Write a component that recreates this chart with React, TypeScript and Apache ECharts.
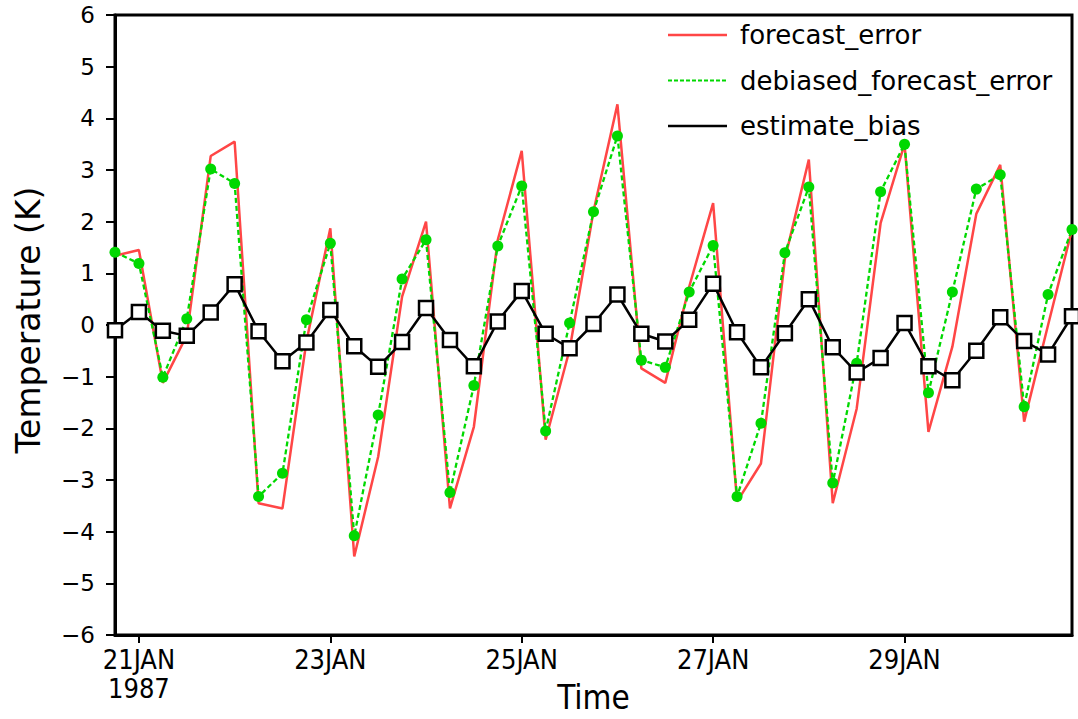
import React, { useEffect, useRef } from "react";
import * as echarts from "echarts";

// 6-hourly time stamps (20JAN1987 18Z .. 30JAN1987 18Z)
const times = [
  "20JAN 18Z",
  "21JAN 00Z", "21JAN 06Z", "21JAN 12Z", "21JAN 18Z",
  "22JAN 00Z", "22JAN 06Z", "22JAN 12Z", "22JAN 18Z",
  "23JAN 00Z", "23JAN 06Z", "23JAN 12Z", "23JAN 18Z",
  "24JAN 00Z", "24JAN 06Z", "24JAN 12Z", "24JAN 18Z",
  "25JAN 00Z", "25JAN 06Z", "25JAN 12Z", "25JAN 18Z",
  "26JAN 00Z", "26JAN 06Z", "26JAN 12Z", "26JAN 18Z",
  "27JAN 00Z", "27JAN 06Z", "27JAN 12Z", "27JAN 18Z",
  "28JAN 00Z", "28JAN 06Z", "28JAN 12Z", "28JAN 18Z",
  "29JAN 00Z", "29JAN 06Z", "29JAN 12Z", "29JAN 18Z",
  "30JAN 00Z", "30JAN 06Z", "30JAN 12Z", "30JAN 18Z",
];

const xTickLabels = ["21JAN", "23JAN", "25JAN", "27JAN", "29JAN"];
const yearLabel = "1987";

const forecastError = [
  1.34, 1.45, -1.12, -0.2, 3.27, 3.55, -3.45, -3.55, -0.32, 1.87,
  -4.48, -2.55, 0.55, 2.0, -3.55, -1.97, 1.65, 3.37, -2.22, -0.48,
  2.2, 4.27, -0.84, -1.12, 0.74, 2.36, -3.42, -2.68, 1.28, 3.2,
  -3.45, -1.62, 1.97, 3.5, -2.07, -0.42, 2.15, 3.1, -1.87, 0.0,
  1.85,
];

const debiasedForecastError = [
  1.41, 1.19, -1.01, 0.12, 3.02, 2.74, -3.32, -2.87, 0.1, 1.58,
  -4.08, -1.74, 0.89, 1.65, -3.24, -1.17, 1.53, 2.69, -2.05, 0.04,
  2.19, 3.66, -0.68, -0.82, 0.64, 1.54, -3.32, -1.9, 1.4, 2.67,
  -3.06, -0.74, 2.58, 3.5, -1.31, 0.64, 2.63, 2.91, -1.58, 0.59,
  1.85,
];

const estimateBias = [
  -0.1, 0.25, -0.11, -0.21, 0.24, 0.79, -0.12, -0.7, -0.34, 0.29,
  -0.41, -0.81, -0.33, 0.33, -0.29, -0.8, 0.07, 0.66, -0.17, -0.45,
  0.02, 0.59, -0.17, -0.32, 0.1, 0.8, -0.14, -0.82, -0.16, 0.5,
  -0.43, -0.92, -0.64, 0.04, -0.8, -1.07, -0.5, 0.15, -0.31, -0.57,
  0.17,
];

const seriesNames = ["forecast_error", "debiased_forecast_error", "estimate_bias"];

const RED = "#ff4646";
const GREEN = "#00d800";
const BLACK = "#000000";
const FONT = "'DejaVu Sans', 'Open Sans', sans-serif";
const NARROW = "'Liberation Sans Narrow', 'DejaVu Sans Condensed', 'Roboto Condensed', 'Liberation Sans', sans-serif";

function isLabelTick(value: string) {
  const day = value.slice(0, 5);
  return value.endsWith("00Z") && xTickLabels.indexOf(day) >= 0;
}

export default function App() {
  const ref = useRef<HTMLDivElement>(null);

  useEffect(() => {
    if (!ref.current) return;
    const chart = echarts.init(ref.current, undefined, { renderer: "svg" });

    const colors = [RED, GREEN, BLACK];
    const legendRows = seriesNames
      .map((name, i) => {
        const y = 35 + i * 45.5;
        return [
          {
            type: "line",
            shape: { x1: 668, y1: y, x2: 727, y2: y },
            style: {
              stroke: colors[i],
              lineWidth: i === 1 ? 2 : 2.5,
              lineDash: i === 1 ? [4, 2] : null,
            },
            z: 100,
          },
          {
            type: "text",
            x: 740,
            y: y,
            style: {
              text: name,
              fill: "#000",
              font: `26px ${FONT}`,
              verticalAlign: "middle",
            },
            z: 100,
          },
        ];
      })
      .flat();

    chart.setOption({
      animation: false,
      backgroundColor: "#ffffff",
      grid: {
        left: 115,
        top: 15,
        right: 6,
        bottom: 84,
        containLabel: false,
        outerBoundsMode: "none",
        show: true,
        borderColor: "#000",
        borderWidth: 3,
        backgroundColor: "transparent",
      },
      xAxis: {
        type: "category",
        data: times,
        boundaryGap: false,
        name: "Time",
        nameLocation: "middle",
        nameGap: 46,
        nameMoveOverlap: false,
        nameTextStyle: { fontFamily: NARROW, fontSize: 33, color: "#000", verticalAlign: "top" },
        axisLine: { show: true, onZero: false, lineStyle: { color: "#000", width: 3 } },
        axisTick: {
          show: true,
          inside: false,
          length: 8,
          interval: (_i: number, v: string) => isLabelTick(v),
          lineStyle: { color: "#000", width: 2 },
        },
        axisLabel: {
          show: true,
          interval: (_i: number, v: string) => isLabelTick(v),
          margin: 10,
          fontFamily: NARROW,
          fontSize: 27,
          lineHeight: 29,
          color: "#000",
          formatter: (v: string) => {
            const day = v.slice(0, 5);
            return day === xTickLabels[0] ? `${day}\n${yearLabel}` : day;
          },
        },
        splitLine: { show: false },
      },
      yAxis: {
        type: "value",
        min: -6,
        max: 6,
        interval: 1,
        name: "Temperature (K)",
        nameLocation: "middle",
        nameGap: 70,
        nameMoveOverlap: false,
        nameTextStyle: {
          fontFamily: FONT,
          fontSize: 33,
          color: "#000",
          padding: [0, 0, 0, 10],
        },
        axisLine: { show: true, onZero: false, lineStyle: { color: "#000", width: 3 } },
        axisTick: { show: true, inside: false, length: 9, lineStyle: { color: "#000", width: 2 } },
        axisLabel: {
          margin: 20,
          fontFamily: FONT,
          fontSize: 23,
          color: "#000",
          formatter: (v: number) => String(v).replace("-", "\u2212"),
        },
        splitLine: { show: false },
      },
      series: [
        {
          name: seriesNames[0],
          type: "line",
          data: forecastError,
          showSymbol: false,
          symbol: "none",
          lineStyle: { color: RED, width: 2.5 },
          itemStyle: { color: RED },
          z: 2,
        },
        {
          name: seriesNames[1],
          type: "line",
          data: debiasedForecastError,
          symbol: "circle",
          symbolSize: 11,
          lineStyle: { color: GREEN, width: 2.3, type: [5, 3] },
          itemStyle: { color: GREEN, borderWidth: 0 },
          z: 3,
        },
        {
          name: seriesNames[2],
          type: "line",
          data: estimateBias,
          symbol: "rect",
          symbolSize: 14,
          lineStyle: { color: BLACK, width: 2.5 },
          itemStyle: { color: "#fff", borderColor: BLACK, borderWidth: 2.5 },
          z: 4,
        },
      ],
      graphic: legendRows,
    });

    return () => chart.dispose();
  }, []);

  return (
    <div
      ref={ref}
      style={{ position: "fixed", left: 0, top: 0, width: 1078, height: 719, background: "#fff" }}
    />
  );
}
